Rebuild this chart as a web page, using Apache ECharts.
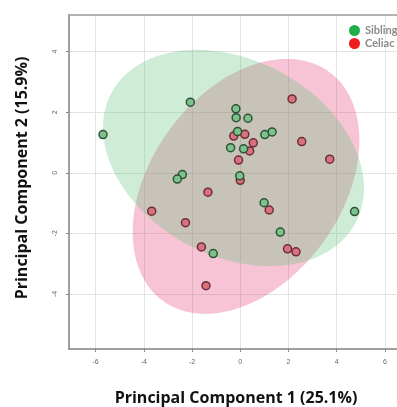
<!DOCTYPE html>
<html><head><meta charset="utf-8">
<script src="https://cdn.jsdelivr.net/npm/echarts@6/dist/echarts.min.js"></script>
<style>html,body{margin:0;padding:0;background:#fff;}#c{width:397px;height:407px;}</style>
</head><body><div id="c"></div>
<script>
// Principal component scores
const siblingsX = [-2.07, -5.69, -2.40, -2.61, -0.18, -0.17, 0.32, -0.11, 1.02, 1.32, -0.40, 0.14, -0.02, -1.12, 0.99, 4.74, 1.66];
const siblingsY = [2.33, 1.26, -0.06, -0.21, 2.11, 1.82, 1.80, 1.36, 1.26, 1.35, 0.83, 0.79, -0.10, -2.67, -0.99, -1.28, -1.96];
const celiacX = [2.15, -0.27, 0.19, 0.54, 2.55, 0.39, -0.07, 3.71, 0.00, -1.34, -3.67, -2.27, -1.61, -1.42, 1.20, 1.96, 2.31];
const celiacY = [2.44, 1.21, 1.27, 0.99, 1.03, 0.72, 0.42, 0.45, -0.25, -0.64, -1.27, -1.65, -2.45, -3.73, -1.23, -2.51, -2.61];
// confidence ellipses: centre x, centre y, sd x, sd y, correlation
const siblingsEllipse = [-0.28, 0.49, 5.41, 3.57, -0.28];
const celiacEllipse = [0.24, -0.45, 4.70, 4.21, 0.36];
const xTicks = [-6, -4, -2, 0, 2, 4, 6];
const yTicks = [-4, -2, 0, 2, 4];
const groupNames = ['Siblings', 'Celiac'];
const xTitle = 'Principal Component 1 (25.1%)';
const yTitle = 'Principal Component 2 (15.9%)';

function zip(a, b) { return a.map((v, i) => [v, b[i]]); }

function ellipseRenderer(fill) {
  return function (params, api) {
    const cx = api.value(0), cy = api.value(1), sx = api.value(2), sy = api.value(3), r = api.value(4);
    const k = Math.sqrt(1 - r * r);
    const pts = [];
    for (let i = 0; i < 120; i++) {
      const t = i / 120 * Math.PI * 2;
      const c = Math.cos(t), s = Math.sin(t);
      pts.push(api.coord([cx + sx * c, cy + sy * (r * c + k * s)]));
    }
    return { type: 'polygon', shape: { points: pts }, style: { fill: fill } };
  };
}

const chart = echarts.init(document.getElementById('c'), null, { renderer: 'canvas' });
const tickLabel = { fontSize: 7, color: '#666', fontFamily: 'Liberation Sans' };
chart.setOption({
  animation: false,
  backgroundColor: '#fff',
  grid: { left: 69, top: 15, width: 332.4, height: 334 },
  xAxis: [{
    type: 'value', min: -7.1, max: 6.5,
    axisLine: { onZero: false, lineStyle: { color: '#808080', width: 1.5 } },
    axisTick: { customValues: xTicks, length: 3, lineStyle: { color: '#888' } },
    axisLabel: Object.assign({ customValues: xTicks, margin: 10 }, tickLabel),
    splitLine: { show: true, lineStyle: { color: '#e3e3e3', width: 1 } }
  }, {
    type: 'value', position: 'top', min: -7.1, max: 6.5,
    axisLine: { show: true, onZero: false, lineStyle: { color: '#999', width: 1.5 } },
    axisTick: { show: false }, axisLabel: { show: false }, splitLine: { show: false }
  }],
  yAxis: {
    type: 'value', min: -5.82, max: 5.21,
    axisLine: { show: true, onZero: false, lineStyle: { color: '#808080', width: 1.5 } },
    axisTick: { show: true, customValues: yTicks, length: 3, lineStyle: { color: '#888' } },
    axisLabel: Object.assign({ customValues: yTicks, margin: 10, rotate: 90 }, tickLabel),
    splitLine: { show: true, lineStyle: { color: '#e3e3e3', width: 1 } }
  },
  legend: {
    orient: 'vertical', left: 344, top: 20, itemGap: 2, itemWidth: 11, itemHeight: 11,
    textStyle: { fontSize: 11, color: '#8a8a8a', fontWeight: 'bold', fontFamily: 'Lato' },
    data: [
      { name: groupNames[0], icon: 'circle', itemStyle: { color: '#1fae48', borderWidth: 0 } },
      { name: groupNames[1], icon: 'circle', itemStyle: { color: '#ee1c1c', borderWidth: 0 } }
    ]
  },
  graphic: [
    { type: 'text', x: 236, y: 398,
      style: { text: xTitle, font: 'bold 16px "Open Sans"', fill: '#111', align: 'center', verticalAlign: 'middle' } },
    { type: 'text', x: 22, y: 178, rotation: Math.PI / 2,
      style: { text: yTitle, font: 'bold 16px "Open Sans"', fill: '#111', align: 'center', verticalAlign: 'middle' } }
  ],
  series: [
    { type: 'custom', name: 'celiacEllipse', data: [celiacEllipse], renderItem: ellipseRenderer('rgba(225,58,112,0.3)'), silent: true, z: 1 },
    { type: 'custom', name: 'siblingsEllipse', data: [siblingsEllipse], renderItem: ellipseRenderer('rgba(92,192,118,0.3)'), silent: true, z: 1 },
    { type: 'scatter', name: groupNames[1], data: zip(celiacX, celiacY), symbolSize: 8,
      itemStyle: { color: '#d9727f', borderColor: '#6e2d38', borderWidth: 1.5, opacity: 1 }, z: 3 },
    { type: 'scatter', name: groupNames[0], data: zip(siblingsX, siblingsY), symbolSize: 8,
      itemStyle: { color: '#7cc28c', borderColor: '#2f5236', borderWidth: 1.5, opacity: 1 }, z: 3 }
  ]
});
</script>
</body></html>
